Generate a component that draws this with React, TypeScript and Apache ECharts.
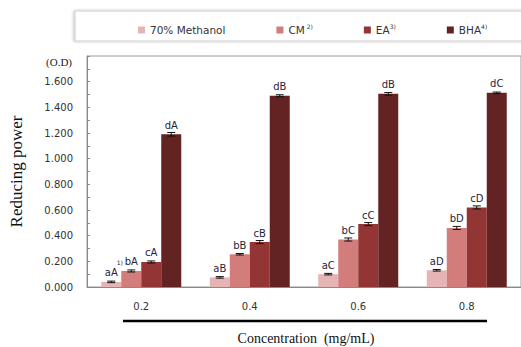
import React, { useEffect, useRef } from "react";
import * as echarts from "echarts";

const categories = ["0.2", "0.4", "0.6", "0.8"];
const seriesNames = ["70% Methanol", "CM", "EA", "BHA"];
const methanol = [0.04, 0.075, 0.1, 0.13];
const cm = [0.125, 0.255, 0.37, 0.46];
const ea = [0.195, 0.35, 0.49, 0.62];
const bha = [1.19, 1.49, 1.505, 1.513];
const methanolErr = [0.006, 0.006, 0.006, 0.006];
const cmErr = [0.008, 0.006, 0.012, 0.012];
const eaErr = [0.008, 0.012, 0.012, 0.012];
const bhaErr = [0.014, 0.008, 0.01, 0.006];
const methanolLetters = ["aA", "aB", "aC", "aD"];
const cmLetters = ["bA", "bB", "bC", "bD"];
const eaLetters = ["cA", "cB", "cC", "cD"];
const bhaLetters = ["dA", "dB", "dB", "dC"];
const legendSup: Record<string, string> = { CM: " 2)", EA: "3)", BHA: "4)" };
const colors = ["#E6B4B4", "#D27C7C", "#943535", "#632323"];

const allValues = [methanol, cm, ea, bha];
const allErrs = [methanolErr, cmErr, eaErr, bhaErr];
const allLetters = [methanolLetters, cmLetters, eaLetters, bhaLetters];

export default function App() {
  const ref = useRef<HTMLDivElement>(null);
  useEffect(() => {
    if (!ref.current) return;
    const chart = echarts.init(ref.current, null, { renderer: "svg" });
    const barWidth = 20;
    const errData: number[][] = [];
    allValues.forEach((vals, si) =>
      vals.forEach((v, ci) => errData.push([ci, v, allErrs[si][ci], si]))
    );
    const barSeries = allValues.map((vals, si) => ({
      name: seriesNames[si],
      type: "bar",
      data: vals,
      barWidth,
      barGap: "0%",
      itemStyle: { color: colors[si] },
      label: {
        show: true,
        position: "top",
        distance: 3,
        formatter: (p: any) =>
          si === 0 && p.dataIndex === 0
            ? "{s|1)}\n{n|" + allLetters[si][p.dataIndex] + "}"
            : "{n|" + allLetters[si][p.dataIndex] + "}",
        rich: {
          n: { fontSize: 10, fontFamily: "DejaVu Sans", color: "#1f2340", lineHeight: 12 },
          s: { fontSize: 6, fontFamily: "DejaVu Sans", color: "#1f2340", lineHeight: 8, padding: [0, 0, 0, 17] },
        },
      },
    }));
    const option: any = {
      animation: false,
      grid: {
        left: 86,
        top: 56,
        width: 439,
        bottom: 60,
        show: true,
        borderColor: "#9a9a9a",
        borderWidth: 1,
      },
      legend: {
        data: seriesNames,
        left: 133,
        top: 18,
        itemWidth: 7,
        itemHeight: 7,
        itemGap: 51,
        icon: "rect",
        formatter: (name: string) =>
          legendSup[name] ? "{n|" + name + "}{s|" + legendSup[name] + "}" : "{n|" + name + "}",
        textStyle: {
          rich: {
            n: { fontSize: 10.5, fontFamily: "DejaVu Sans", color: "#333", lineHeight: 14 },
            s: { fontSize: 6, fontFamily: "DejaVu Sans", color: "#333", verticalAlign: "top", lineHeight: 8 },
          },
        },
      },
      xAxis: {
        type: "category",
        data: categories,
        axisLine: { lineStyle: { color: "#8a8a8a" } },
        axisTick: { inside: true, length: 3, lineStyle: { color: "#8a8a8a" } },
        axisLabel: { fontSize: 10, fontFamily: "DejaVu Sans", color: "#333", margin: 14 },
      },
      yAxis: {
        type: "value",
        min: 0,
        max: 1.8,
        interval: 0.1,
        name: "Reducing power",
        nameLocation: "middle",
        nameGap: 62,
        nameRotate: 90,
        nameTextStyle: { fontSize: 17, fontFamily: "Liberation Serif", color: "#111" },
        axisLine: { show: true, lineStyle: { color: "#8a8a8a" } },
        axisTick: { show: true, inside: true, length: 3, lineStyle: { color: "#8a8a8a" } },
        splitLine: { show: false },
        axisLabel: {
          fontSize: 10,
          fontFamily: "DejaVu Sans",
          color: "#333",
          margin: 14,
          formatter: (v: number) => {
            const k = Math.round(v * 10);
            return k % 2 === 0 && k < 18 ? v.toFixed(3) : "";
          },
        },
      },
      series: [
        ...barSeries,
        {
          type: "custom",
          silent: true,
          z: 10,
          data: errData,
          renderItem: (params: any, api: any) => {
            const ci = api.value(0);
            const v = api.value(1);
            const e = api.value(2);
            const si = api.value(3);
            const c = api.coord([ci, v]);
            const x = c[0] + (si - 1.5) * barWidth;
            const top = api.coord([ci, v + e])[1];
            const bot = api.coord([ci, v - e])[1];
            const hw = 4;
            const st = { stroke: "#111", lineWidth: 1 };
            return {
              type: "group",
              children: [
                { type: "line", shape: { x1: x, y1: top, x2: x, y2: bot }, style: st },
                { type: "line", shape: { x1: x - hw, y1: top, x2: x + hw, y2: top }, style: st },
                { type: "line", shape: { x1: x - hw, y1: bot, x2: x + hw, y2: bot }, style: st },
              ],
            };
          },
        },
      ],
      graphic: [
        {
          type: "rect",
          z: -1,
          shape: { x: 75, y: 11, width: 460, height: 30 },
          style: {
            fill: "#fff",
            stroke: "#cfcfcf",
            lineWidth: 1,
            shadowBlur: 3,
            shadowOffsetX: -1,
            shadowColor: "rgba(0,0,0,0.25)",
          },
        },
        {
          type: "text",
          x: 72,
          y: 62,
          style: {
            text: "(O.D)",
            font: "11px 'Liberation Serif'",
            fill: "#222",
            align: "right",
            verticalAlign: "middle",
          },
        },
        {
          type: "line",
          shape: { x1: 123, y1: 321, x2: 487, y2: 321 },
          style: { stroke: "#000", lineWidth: 2.5 },
        },
        {
          type: "text",
          x: 306,
          y: 338,
          style: {
            text: "Concentration  (mg/mL)",
            font: "14px 'Liberation Serif'",
            fill: "#111",
            align: "center",
            verticalAlign: "middle",
          },
        },
      ],
    };
    chart.setOption(option);
    return () => chart.dispose();
  }, []);
  return <div ref={ref} style={{ width: 521, height: 347, position: "absolute", left: 0, top: 0 }} />;
}
